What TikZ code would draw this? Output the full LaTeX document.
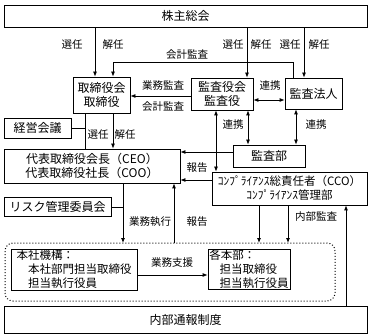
\documentclass[tikz,border=0pt]{standalone}
\usepackage{fontspec}
\setmainfont{Noto Sans CJK JP}
\usetikzlibrary{arrows.meta,calc}
\begin{document}
\begin{tikzpicture}[x=1pt,y=-1pt,
  box/.style={draw,line width=0.8pt,inner sep=0pt,font=\fontsize{12}{14}\selectfont,align=center},
  lbl/.style={inner sep=0pt,font=\fontsize{10.5}{12}\selectfont},
  ln/.style={line width=0.8pt},
  arr/.style={ln,-{Latex[length=5pt,width=4pt]}},
  darr/.style={ln,{Latex[length=5pt,width=4pt]}-{Latex[length=5pt,width=4pt]}}]
\useasboundingbox (0,0) rectangle (371,336);
% boxes
\node[box,minimum width=363pt,minimum height=22pt] (top) at (185.5,16) {株主総会};
\node[box,minimum width=57pt,minimum height=36pt] (tori) at (101.5,95) {取締役会\\取締役};
\node[box,minimum width=62pt,minimum height=32pt] (kyaku) at (222,94) {監査役会\\監査役};
\node[box,minimum width=57pt,minimum height=31pt] (hojin) at (313.5,93.5) {監査法人};
\node[box,minimum width=67pt,minimum height=20pt] (keiei) at (37.5,128) {経営会議};
\node[box,minimum width=176pt,minimum height=34pt] (ceo) at (92,166) {代表取締役会長（CEO）\\代表取締役社長（COO）};
\node[box,minimum width=72pt,minimum height=22pt] (kbu) at (269,156) {監査部};
\node[box,minimum width=155pt,minimum height=33pt,font=\fontsize{11.5}{14}\selectfont] (cco) at (289.5,188.5) {ｺﾝﾌﾟﾗｲｱﾝｽ総責任者（CCO）\\ｺﾝﾌﾟﾗｲｱﾝｽ管理部};
\node[box,minimum width=107pt,minimum height=19pt] (risk) at (57.5,207) {リスク管理委員会};
\draw[line width=1pt,dotted,rounded corners=8pt] (5,243) rectangle (335,301);
\coordinate (dtop) at (170,243);
\node[box,minimum width=126pt,minimum height=41pt,align=left,font=\fontsize{11.5}{14}\selectfont] (honsha) at (74,269.5) {本社機構：\\\hspace{1em}本社部門担当取締役\\\hspace{1em}担当執行役員};
\node[box,minimum width=82pt,minimum height=40pt,align=left,font=\fontsize{11.5}{14}\selectfont] (kaku) at (249,269) {各本部：\\\hspace{0.9em}担当取締役\\\hspace{0.9em}担当執行役員};
\node[box,minimum width=363pt,minimum height=27pt] (naibu) at (185.5,319.5) {内部通報制度};
% connectors
\draw[arr] (top.south -| 95,0) -- (tori.north -| 95,0);
\draw[arr] (top.south -| 247,0) -- (kyaku.north -| 247,0);
\draw[arr] (top.south -| 304,0) -- (hojin.north -| 304,0);
\draw[arr] (hojin.north -| 293,0) -- (293,62) -- (113,62) -- (tori.north -| 113,0);
\draw[arr] (kyaku.west |- 0,96) -- (tori.east |- 0,96);
\draw[darr] (kyaku.east |- 0,100) -- (hojin.west |- 0,100);
\draw[ln] (tori.south -| 85,0) -- (ceo.north -| 85,0);
\draw[ln] (keiei.east) -- (keiei.east -| 85,0);
\draw[arr] (tori.south -| 113,0) -- (ceo.north -| 113,0);
\draw[darr] (kyaku.south -| 248,0) -- (kbu.north -| 248,0);
\draw[darr] (hojin.south -| 296,0) -- (kbu.north -| 296,0);
\draw[darr] (kyaku.south -| 216,0) -- (cco.north -| 216,0);
\draw[arr] (kbu.west |- 0,152) -- (ceo.east |- 0,152);
\draw[arr] (cco.west |- 0,180) -- (ceo.east |- 0,180);
\draw[arr] (ceo.south -| 123,0) -- (dtop -| 123,0);
\draw[ln] (risk.east) -- (risk.east -| 123,0);
\draw[arr] (dtop -| 174,0) -- (ceo.south -| 174,0);
\draw[arr] (cco.south -| 259,0) -- (dtop -| 259,0);
\draw[arr] (cco.south -| 288,0) -- (dtop -| 288,0);
\draw[arr] (naibu.north -| 346,0) -- (cco.south -| 346,0);
\draw[arr] (honsha.east |- 0,275) -- (kaku.west |- 0,275);
% labels
\node[lbl] (l1) at (72,45) {選任};
\node[lbl] (l2) at (113,45) {解任};
\node[lbl] (l3) at (233,45) {選任};
\node[lbl] (l4) at (261,45) {解任};
\node[lbl] (l5) at (290,45) {選任};
\node[lbl] (l6) at (319,45) {解任};
\node[lbl] (l7) at (187,55) {会計監査};
\node[lbl] (l8) at (163,86) {業務監査};
\node[lbl] (l9) at (163,107) {会計監査};
\node[lbl] (l10) at (270,86) {連携};
\node[lbl] (l11) at (98,135) {選任};
\node[lbl] (l12) at (125,135) {解任};
\node[lbl] (l13) at (233,125) {連携};
\node[lbl] (l14) at (316,125) {連携};
\node[lbl] (l15) at (197,168) {報告};
\node[lbl] (l16) at (150,222) {業務執行};
\node[lbl] (l17) at (197,222) {報告};
\node[lbl] (l18) at (316,217) {内部監査};
\node[lbl] (l19) at (172,263) {業務支援};
\end{tikzpicture}
\end{document}
